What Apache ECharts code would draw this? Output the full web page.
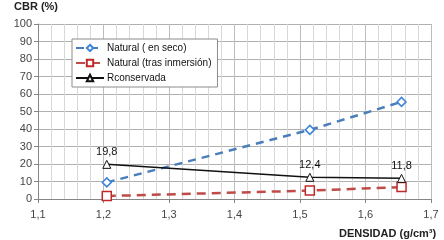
<!DOCTYPE html>
<html>
<head>
<meta charset="utf-8">
<script src="https://cdn.jsdelivr.net/npm/echarts@6/dist/echarts.min.js"></script>
<style>
  html, body { margin: 0; padding: 0; background: #fff; }
  #chart { width: 444px; height: 240px; }
</style>
</head>
<body>
<div id="chart"></div>
<script>
const densidad = [1.205, 1.515, 1.655];
const naturalSeco = [9.5, 39.5, 55.5];
const naturalInmersion = [1.7, 4.8, 6.8];
const rconservada = [19.8, 12.4, 11.8];
const seriesNames = ["Natural ( en seco)", "Natural (tras inmersión)", "Rconservada"];

const font = "'Liberation Sans', Arial, sans-serif";
const comma = (v) => String(v).replace(".", ",");
const pairs = (ys) => densidad.map((x, i) => [x, ys[i]]);

const chart = echarts.init(document.getElementById("chart"));

chart.setOption({
  animation: false,
  textStyle: { fontFamily: font },
  grid: { left: 38, right: 13, top: 24, bottom: 41 },
  graphic: [
    {
      type: "text", left: 14, top: 1,
      style: { text: "CBR (%)", font: "bold 11px " + font, fill: "#222" },
    },
    {
      type: "text", left: 339, top: 228,
      style: { text: "DENSIDAD (g/cm³)", font: "bold 11px " + font, fill: "#222" },
    },
  ],
  legend: {
    orient: "vertical",
    left: 72,
    top: 39,
    itemWidth: 28,
    itemHeight: 8,
    itemGap: 5,
    padding: [4, 6, 4, 3],
    backgroundColor: "#fff",
    borderColor: "#8c8c8c",
    borderWidth: 1,
    textStyle: { fontSize: 10, color: "#111", fontFamily: font, padding: [0, 0, 0, -2] },
    data: seriesNames,
  },
  xAxis: {
    type: "value",
    min: 1.1,
    max: 1.7,
    interval: 0.1,
    axisLine: { onZero: false, lineStyle: { color: "#868686" } },
    axisTick: { show: true, length: 4, lineStyle: { color: "#868686" } },
    axisLabel: {
      color: "#444", fontSize: 11, margin: 10,
      formatter: (v) => comma(v.toFixed(1)),
    },
    splitLine: { show: true, lineStyle: { color: "#bcbcbc" } },
    minorTick: { show: false, splitNumber: 5 },
    minorSplitLine: { show: true, lineStyle: { color: "#d8d8d8" } },
  },
  yAxis: {
    type: "value",
    min: 0,
    max: 100,
    interval: 10,
    axisLine: { show: true, lineStyle: { color: "#868686" } },
    axisTick: { show: true, length: 4, lineStyle: { color: "#868686" } },
    axisLabel: { color: "#444", fontSize: 11, margin: 6 },
    splitLine: { show: true, lineStyle: { color: "#b0b0b0" } },
  },
  series: [
    {
      name: seriesNames[0],
      type: "line",
      data: pairs(naturalSeco),
      symbol: "diamond",
      symbolSize: 9,
      lineStyle: { color: "#4a7ebb", width: 2.5, type: [8, 6] },
      itemStyle: { color: "#fff", borderColor: "#3d85d8", borderWidth: 1.5 },
      z: 3,
    },
    {
      name: seriesNames[1],
      type: "line",
      data: pairs(naturalInmersion),
      symbol: "rect",
      symbolSize: 9,
      lineStyle: { color: "#be4b48", width: 2.5, type: [9, 6] },
      itemStyle: { color: "#fff", borderColor: "#c0282a", borderWidth: 1.5 },
      z: 3,
    },
    {
      name: seriesNames[2],
      type: "line",
      data: pairs(rconservada),
      symbol: "triangle",
      symbolSize: 8,
      lineStyle: { color: "#111", width: 1.5 },
      itemStyle: { color: "#fff", borderColor: "#111", borderWidth: 1 },
      label: {
        show: true,
        position: "top",
        distance: 2,
        color: "#111",
        fontSize: 11,
        formatter: (p) => comma(p.value[1]),
      },
      z: 4,
    },
  ],
});
</script>
</body>
</html>
